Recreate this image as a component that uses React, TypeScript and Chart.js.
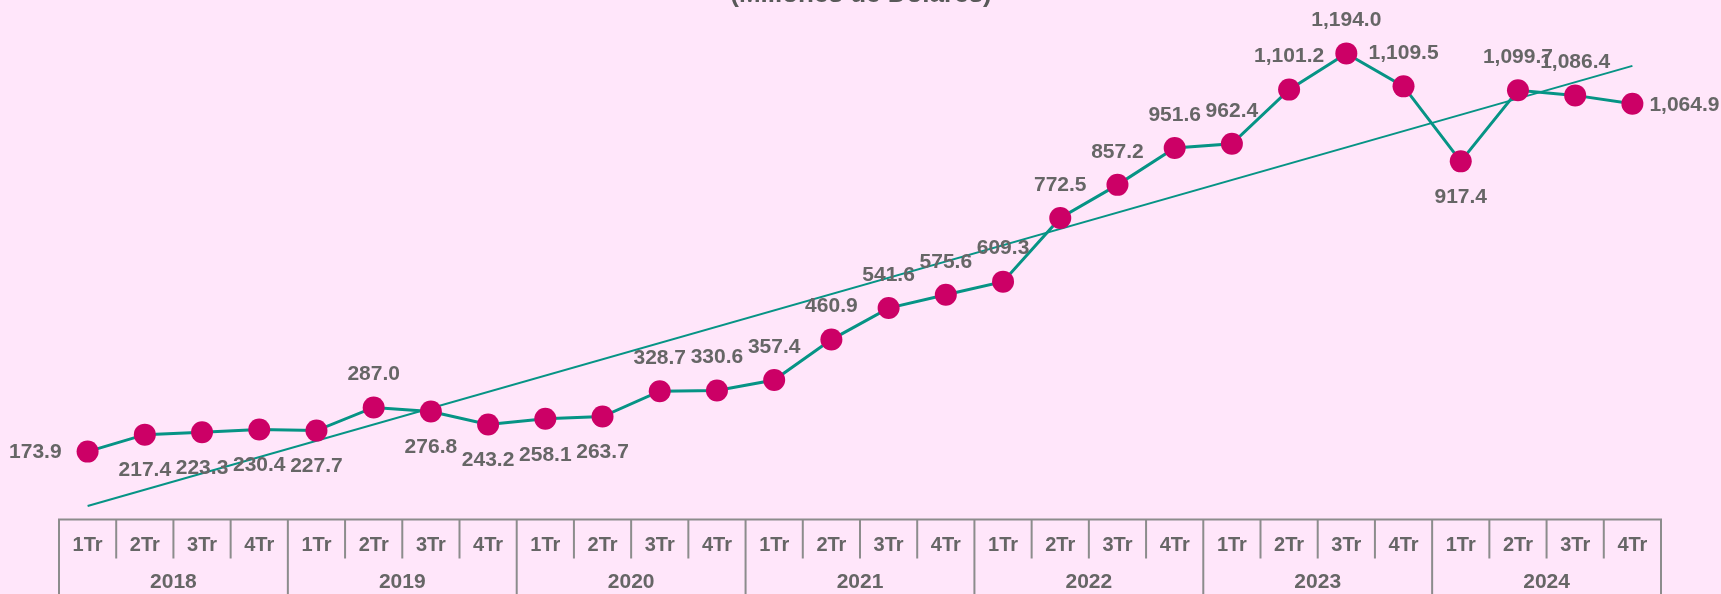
import React, { useEffect, useRef } from 'react';
import { Chart, registerables } from 'chart.js';

Chart.register(...registerables);

const title = '(Millones de Dólares)';
const years = ['2018', '2019', '2020', '2021', '2022', '2023', '2024'];
const quarters = ['1Tr', '2Tr', '3Tr', '4Tr'];
const values = [
  173.9, 217.4, 223.3, 230.4,
  227.7, 287.0, 276.8, 243.2,
  258.1, 263.7, 328.7, 330.6,
  357.4, 460.9, 541.6, 575.6,
  609.3, 772.5, 857.2, 951.6,
  962.4, 1101.2, 1194.0, 1109.5,
  917.4, 1099.7, 1086.4, 1064.9,
];
// Trend line as read at first and last quarter
const trendStart = 34.6;
const trendEnd = 1162;

const labelPlacement = [
  'left', 'below', 'below', 'below',
  'below', 'above', 'below', 'below',
  'below', 'below', 'above', 'above',
  'above', 'above', 'above', 'above',
  'above', 'above', 'above', 'above',
  'above', 'above', 'above', 'above',
  'below', 'above', 'above', 'right',
];

const W = 1721;
const H = 594;
const FONT = '"Liberation Sans", Arial, sans-serif';
const TEXT = '#666666';
const LINE = '#8C8C8C';
const MAGENTA = '#CC0066';
const TEAL = '#069485';
const BG = '#FFE6FA';

function fmt(v: number): string {
  const s = v.toFixed(1);
  const [i, d] = s.split('.');
  return i.replace(/\B(?=(\d{3})+(?!\d))/g, ',') + '.' + d;
}

const categoryLabels = years.flatMap((y) => quarters.map((q) => q + ' ' + y));
const trendData = values.map((_, i) => (i === 0 ? trendStart : i === values.length - 1 ? trendEnd : null));

const bgPlugin = {
  id: 'bg',
  beforeDraw(chart: any) {
    const ctx = chart.ctx;
    ctx.save();
    ctx.fillStyle = BG;
    ctx.fillRect(0, 0, chart.width, chart.height);
    ctx.restore();
  },
};

const decorPlugin = {
  id: 'decor',
  afterDatasetsDraw(chart: any) {
    const ctx = chart.ctx;
    const x = chart.scales.x;
    const area = chart.chartArea;
    ctx.save();
    // title
    ctx.font = `bold 26px ${FONT}`;
    ctx.fillStyle = '#595959';
    ctx.textAlign = 'center';
    ctx.textBaseline = 'alphabetic';
    ctx.fillText(title, 861, 1.5);

    // data labels
    const meta = chart.getDatasetMeta(0);
    ctx.font = `bold 21px ${FONT}`;
    ctx.fillStyle = TEXT;
    ctx.textBaseline = 'middle';
    meta.data.forEach((pt: any, i: number) => {
      const txt = fmt(values[i]);
      const pos = labelPlacement[i];
      if (pos === 'above') {
        ctx.textAlign = 'center';
        ctx.fillText(txt, pt.x, pt.y - 33);
      } else if (pos === 'below') {
        ctx.textAlign = 'center';
        ctx.fillText(txt, pt.x, pt.y + 36);
      } else if (pos === 'left') {
        ctx.textAlign = 'right';
        ctx.fillText(txt, pt.x - 26, pt.y + 1);
      } else {
        ctx.textAlign = 'left';
        ctx.fillText(txt, pt.x + 17, pt.y + 1);
      }
    });

    // category table
    const n = values.length;
    const top = area.bottom;
    const bounds: number[] = [];
    for (let k = 0; k <= n; k++) {
      if (k === 0) bounds.push(area.left);
      else if (k === n) bounds.push(area.right);
      else bounds.push((x.getPixelForValue(k - 1) + x.getPixelForValue(k)) / 2);
    }
    ctx.strokeStyle = LINE;
    ctx.lineWidth = 2;
    ctx.beginPath();
    ctx.moveTo(area.left - 1, top);
    ctx.lineTo(area.right + 1, top);
    bounds.forEach((bx, k) => {
      ctx.moveTo(bx, top);
      ctx.lineTo(bx, k % quarters.length === 0 ? H + 2 : top + 39);
    });
    ctx.stroke();

    ctx.fillStyle = TEXT;
    ctx.textAlign = 'center';
    ctx.textBaseline = 'middle';
    ctx.font = `bold 20px ${FONT}`;
    for (let i = 0; i < n; i++) {
      ctx.fillText(quarters[i % quarters.length], x.getPixelForValue(i), top + 26);
    }
    ctx.font = `bold 21px ${FONT}`;
    years.forEach((yr, j) => {
      const cx = (bounds[j * 4] + bounds[j * 4 + 4]) / 2;
      ctx.fillText(yr, cx, top + 63);
    });
    ctx.restore();
  },
};

export default function App() {
  const ref = useRef<HTMLCanvasElement | null>(null);
  useEffect(() => {
    if (!ref.current) return;
    const chart = new Chart(ref.current, {
      type: 'line',
      data: {
        labels: categoryLabels,
        datasets: [
          {
            data: values,
            borderColor: TEAL,
            borderWidth: 3,
            pointRadius: 11,
            pointHoverRadius: 11,
            pointBackgroundColor: MAGENTA,
            pointBorderColor: MAGENTA,
            pointBorderWidth: 0,
            tension: 0,
            order: 0,
          },
          {
            data: trendData,
            borderColor: TEAL,
            borderWidth: 2,
            pointRadius: 0,
            spanGaps: true,
            tension: 0,
            order: 1,
          },
        ],
      },
      options: {
        responsive: false,
        animation: false,
        events: [],
        layout: { padding: { left: 59, right: 60, top: 12, bottom: 74.5 } },
        plugins: { legend: { display: false }, tooltip: { enabled: false }, title: { display: false } },
        scales: {
          x: { display: false, offset: true },
          y: { display: false, min: 0, max: 1300 },
        },
      },
      plugins: [bgPlugin, decorPlugin],
    });
    return () => chart.destroy();
  }, []);
  return (
    <div style={{ position: 'absolute', left: 0, top: 0, width: W, height: H, background: BG }}>
      <canvas ref={ref} width={W} height={H} style={{ display: 'block', width: W, height: H }} />
    </div>
  );
}
